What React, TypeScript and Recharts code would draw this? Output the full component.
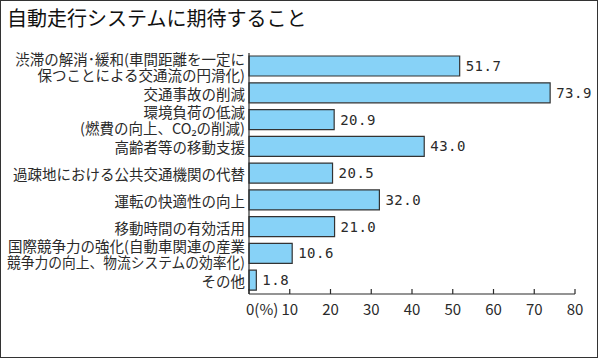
import { Bar, BarChart, LabelList, XAxis, YAxis } from 'recharts';

const categories = [
  '渋滞の解消･緩和(車間距離を一定に\n保つことによる交通流の円滑化)',
  '交通事故の削減',
  '環境負荷の低減\n(燃費の向上、CO₂の削減)',
  '高齢者等の移動支援',
  '過疎地における公共交通機関の代替',
  '運転の快適性の向上',
  '移動時間の有効活用',
  '国際競争力の強化(自動車関連の産業\n競争力の向上、物流システムの効率化)',
  'その他',
];
const values = [51.7, 73.9, 20.9, 43.0, 20.5, 32.0, 21.0, 10.6, 1.8];
const xTicks = [0, 10, 20, 30, 40, 50, 60, 70, 80];

const data = categories.map((name, i) => ({ name, value: values[i] }));

const JP = '"Noto Sans CJK JP", "Noto Sans", sans-serif';
const INK = '#2a2a2a';

function CategoryTick({ x, y, payload }: any) {
  const lines = String(payload.value).split('\n');
  const lh = 16;
  const start = y - ((lines.length - 1) * lh) / 2;
  return (
    <g>
      {lines.map((l, i) => (
        <text key={i} x={x} y={start + i * lh} textAnchor="end" fill={INK} fontSize={14.5} fontFamily={JP}
          dominantBaseline="central"
          {...(l.length >= 18 ? { textLength: 238, lengthAdjust: 'spacingAndGlyphs' } : {})}>{l}</text>
      ))}
    </g>
  );
}

function ValueTick({ x, y, payload }: any) {
  const first = payload.value === 0;
  return (
    <g>
      <line x1={x} x2={x} y1={y - 5} y2={y} stroke={INK} strokeWidth={1.2} />
      <text x={first ? x - 3 : x} y={y + 14} textAnchor={first ? 'start' : 'middle'} fill={INK}
        fontSize={15} fontFamily={JP} dominantBaseline="central">
        {first ? '0(%)' : payload.value}
      </text>
    </g>
  );
}

export default function App() {
  return (
    <div style={{ position: 'absolute', left: 0, top: 0, width: 600, height: 360, background: '#fff' }}>
      <div style={{ position: 'absolute', left: 0, top: 0, width: 598, height: 358, border: '1.5px solid #333', boxSizing: 'border-box' }} />
      <div style={{ position: 'absolute', left: 7, top: 4, fontFamily: JP, fontSize: 20, color: '#111', lineHeight: '28px' }}>
        自動走行システムに期待すること
      </div>
      <BarChart width={600} height={360} data={data} layout="vertical" barSize={20}
        margin={{ top: 53, right: 25, bottom: 33, left: 4 }}>
        <XAxis type="number" domain={[0, 80]} ticks={xTicks} interval={0} tickSize={0} tickMargin={0}
          axisLine={{ stroke: INK, strokeWidth: 1.2 }} tickLine={false} tick={<ValueTick />} height={33} />
        <YAxis type="category" dataKey="name" width={245} tickSize={0} tickMargin={4}
          axisLine={{ stroke: INK, strokeWidth: 1.2 }} tickLine={false} tick={<CategoryTick />} interval={0} />
        <Bar dataKey="value" fill="#87d2f7" stroke="#333" strokeWidth={1.2} isAnimationActive={false}>
          <LabelList dataKey="value" position="right" offset={6} formatter={(v: any) => Number(v).toFixed(1)}
            fill={INK} fontSize={14} fontFamily='"DejaVu Sans Mono", monospace' style={{ letterSpacing: 0.5 }} />
        </Bar>
      </BarChart>
    </div>
  );
}
